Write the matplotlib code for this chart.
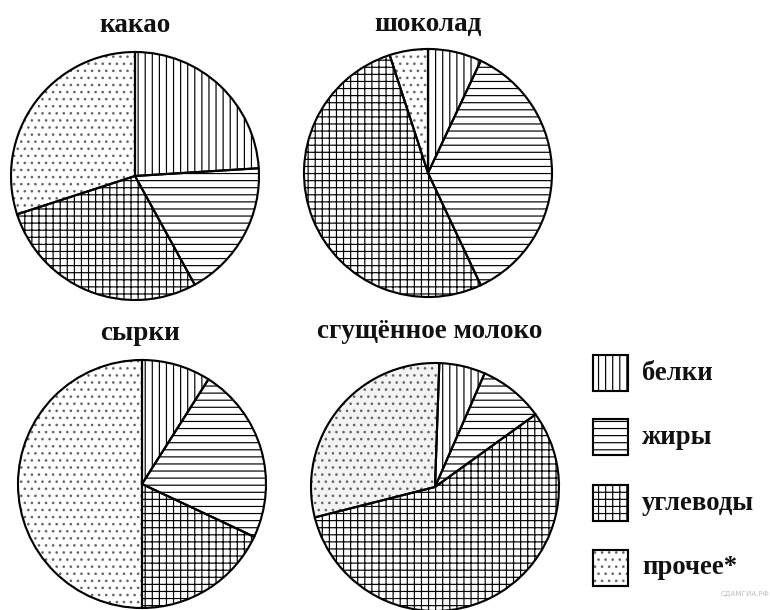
import matplotlib.pyplot as plt
from matplotlib.patches import Rectangle

# data (percent of mass)
components = ['белки', 'жиры', 'углеводы', 'прочее*']
titles = ['какао', 'шоколад', 'сырки', 'сгущённое молоко']
kakao = [24, 18, 28, 30]
shokolad = [7, 36, 52, 5]
syrki = [9, 23, 18, 50]
sgush = [6, 8.5, 56, 29.5]
all_values = [kakao, shokolad, syrki, sgush]

hatches = ['||', '--', '++', '..']
hatch_cols = ['black', 'black', 'black', '#666666']

W, H = 770, 610
DPI = 85
plt.rcParams['hatch.linewidth'] = 1.0
plt.rcParams['font.family'] = ['Liberation Serif', 'DejaVu Serif']

fig = plt.figure(figsize=(W / DPI, H / DPI), dpi=DPI)
ax = fig.add_axes([0, 0, 1, 1])

# pie centers / radius / title positions in pixel coords (y from top)
centers = [(135, 176), (428, 173), (142, 484), (435, 487)]
radius = 124
title_pos = [(135, 25), (428, 25), (140, 333), (430, 332)]
starts = [90, 90, 90, 88]
face_other = ['white', 'white', 'white', '#f3f3f3']

for vals, (cx, cy), st, fo in zip(all_values, centers, starts, face_other):
    c = (cx, H - cy)
    wedges, _ = ax.pie(vals, center=c, radius=radius, startangle=st,
                       counterclock=False,
                       wedgeprops=dict(linewidth=0))
    for w, h, hc in zip(wedges, hatches, hatch_cols):
        w.set_facecolor('white')
        w.set_edgecolor(hc)
        w.set_hatch(h)
    wedges[3].set_facecolor(fo)
    # outlines
    ax.pie(vals, center=c, radius=radius, startangle=st, counterclock=False,
           wedgeprops=dict(fill=False, edgecolor='black', linewidth=1.8))

for t, (tx, ty) in zip(titles, title_pos):
    ax.text(tx, H - ty, t, ha='center', va='center', fontsize=23,
            fontweight='bold', color='#111111')

# legend
leg_y = [373, 437, 503, 568]
for lab, h, hc, ly in zip(components, hatches, hatch_cols, leg_y):
    ax.add_patch(Rectangle((593, H - ly - 18), 35, 36, facecolor='white',
                           edgecolor=hc, hatch=h, linewidth=0))
    ax.add_patch(Rectangle((593, H - ly - 18), 35, 36, fill=False,
                           edgecolor='black', linewidth=1.8))
    ax.text(642, H - ly, lab, ha='left', va='center', fontsize=22.5,
            fontweight='bold', color='#111111')

ax.text(769, H - 594, 'СДАМГИА.РФ', ha='right', va='center', fontsize=6,
        color='#bbbbbb', family=['DejaVu Sans'], zorder=0)

ax.set_xlim(0, W)
ax.set_ylim(0, H)
ax.set_aspect('equal')
ax.axis('off')

fig.savefig('out.png', dpi=DPI)
